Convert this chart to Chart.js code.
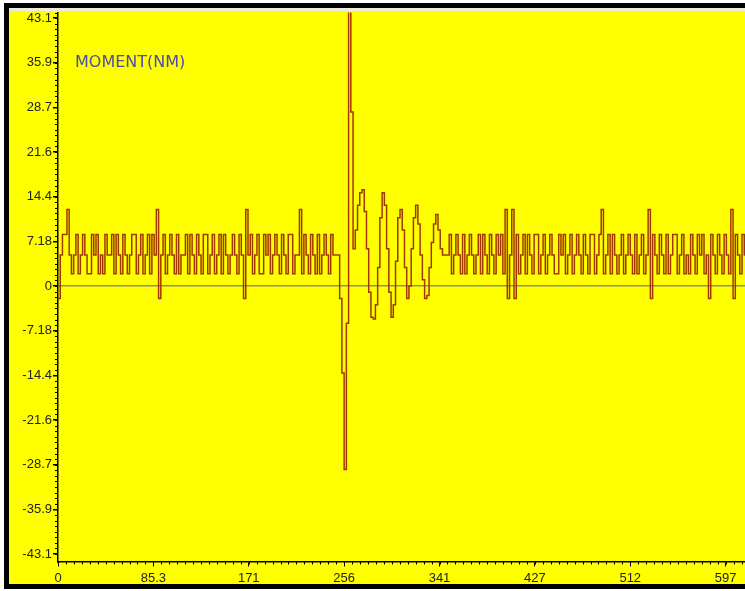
<!DOCTYPE html>
<html>
<head>
<meta charset="utf-8">
<script src="https://cdn.jsdelivr.net/npm/chart.js@4/dist/chart.umd.min.js"></script>
<style>
  html, body { margin: 0; padding: 0; background: #fff; overflow: hidden; width: 745px; height: 591px; }
  #frame {
    position: absolute; left: 4px; top: 3px; width: 900px; height: 576px;
    border-left: 5px solid #000; border-top: 5px solid #000; border-bottom: 5px solid #000;
    background: #ffff00; box-shadow: inset 0 3px 0 #ececd8;
  }
  #momentChart { position: absolute; left: 0; top: 0; z-index: 2; }
</style>
</head>
<body>
<div id="frame"></div>
<canvas id="momentChart" width="840" height="591"></canvas>
<script>
// sample data (x in samples, y in NM)
const noiseBefore = [
  -2, 5, 8.3, 8.3, 12.3, 5, 2, 5, 8.3, 2,
  5, 8.3, 5, 2, 2, 8.3, 5, 8.3, 2, 5,
  2, 8.3, 5, 5, 8.3, 2, 8.3, 5, 2, 8.3,
  5, 2, 5, 8.3, 8.3, 2, 5, 8.3, 2, 5,
  8.3, 2, 8.3, 5, 12.3, -2, 5, 8.3, 2, 5,
  8.3, 5, 2, 8.3, 2, 5, 5, 8.3, 2, 8.3,
  5, 2, 8.3, 5, 2, 8.3, 8.3, 2, 5, 8.3,
  2, 5, 8.3, 2, 8.3, 5, 2, 5, 8.3, 5,
  2, 8.3, 5, -2, 12.3, 5, 8.3, 2, 5, 8.3,
  2, 2, 8.3, 5, 8.3, 2, 5, 8.3, 5, 2,
  8.3, 5, 2, 8.3, 8.3, 2, 5, 5, 12.3, 2,
  8.3, 5, 2, 8.3, 5, 2, 8.3, 2, 5, 8.3,
  5, 2, 8.3, 5, 5
];
const impactWave = [
  5, -2, -14, -29.5, -6, 45, 28, 6, 9, 13,
  15, 15.5, 12, 6, -1, -5, -5.3, -3, 3, 11,
  15, 13, 6, -1, -5, -3, 4, 11, 12.3, 9,
  3, -2, 0, 6, 11, 13, 10, 5, 1, -2,
  -1.5, 3, 7, 10, 11.5, 9, 6, 5, 5
];
const noiseAfter = [
  5, 8.3, 2, 5, 8.3, 5, 2, 8.3, 2, 5,
  8.3, 5, 2, 5, 8.3, 2, 8.3, 5, 2, 8.3,
  5, 2, 8.3, 5, 8.3, 2, 12.3, -2, 5, 12.3,
  -2, 8.3, 2, 5, 8.3, 2, 8.3, 5, 2, 8.3,
  8.3, 2, 5, 8.3, 2, 5, 8.3, 5, 2, 2,
  8.3, 5, 8.3, 2, 5, 8.3, 2, 5, 8.3, 5,
  2, 8.3, 5, 2, 8.3, 8.3, 2, 5, 8.3, 12.3,
  2, 5, 8.3, 2, 8.3, 5, 2, 5, 8.3, 2,
  5, 8.3, 5, 2, 8.3, 2, 5, 8.3, 2, 5,
  12.3, -2, 8.3, 5, 2, 8.3, 5, 2, 8.3, 2,
  5, 8.3, 8.3, 2, 5, 8.3, 2, 5, 2, 8.3,
  5, 2, 8.3, 5, 8.3, 2, 5, -2, 8.3, 5,
  2, 8.3, 5, 2, 8.3, 5, 2, 12.3, -2, 8.3,
  5, 2, 8.3, 5, 8.3, 2, 5, 2, 8.3, 5,
  8.3, 2, 5, 8.3, 2, 5, 8.3, 5, 2, 8.3,
  2, 5, 8.3, 5, 2, 8.3, 5, 2, 8.3, 5,
  2, 8.3, 5, 8.3, 2, 5, 8.3, 5
];
// segment start sample and sample spacing
const segments = [
  { values: noiseBefore, start: 0, step: 2 },
  { values: impactWave, start: 250, step: 2 },
  { values: noiseAfter, start: 348, step: 2 }
];

const xTickLabels = ["0", "85.3", "171", "256", "341", "427", "512", "597", "683"];
const xTickStep = 85.3333;
const yTickLabels = ["-43.1", "-35.9", "-28.7", "-21.6", "-14.4", "-7.18", "0", "7.18", "14.4", "21.6", "28.7", "35.9", "43.1"];
const yTickStep = 7.18333;

const points = [];
segments.forEach(seg => {
  seg.values.forEach((v, i) => points.push({ x: seg.start + i * seg.step, y: v }));
});

// short minor tick marks along both axes + series name
const minorTicks = {
  id: "minorTicks",
  afterDraw(chart) {
    const { ctx, chartArea, scales } = chart;
    ctx.save();
    ctx.strokeStyle = "#000";
    ctx.lineWidth = 1;
    ctx.beginPath();
    const ySub = yTickStep / 8;
    for (let v = -6 * yTickStep; v <= scales.y.max; v += ySub) {
      if (v < scales.y.min) continue;
      const py = Math.round(scales.y.getPixelForValue(v)) + 0.5;
      ctx.moveTo(chartArea.left - 3, py);
      ctx.lineTo(chartArea.left, py);
    }
    const xSub = xTickStep / 12;
    for (let v = 0; v <= scales.x.max; v += xSub) {
      const px = Math.round(scales.x.getPixelForValue(v)) + 0.5;
      ctx.moveTo(px, chartArea.bottom);
      ctx.lineTo(px, chartArea.bottom + 3);
    }
    ctx.stroke();

    ctx.fillStyle = "#4d4da6";
    ctx.font = "16px 'DejaVu Sans'";
    ctx.textBaseline = "middle";
    ctx.fillText("MOMENT(NM)", chartArea.left + 17, chartArea.top + 50);
    ctx.restore();
  }
};

new Chart(document.getElementById("momentChart"), {
  type: "line",
  data: {
    datasets: [{
      data: points,
      borderColor: "#a13800",
      borderWidth: 1.5,
      stepped: true,
      pointRadius: 0,
      fill: false
    }]
  },
  options: {
    responsive: false,
    animation: false,
    layout: { padding: { top: 12.5, right: 19, left: 0, bottom: 0 } },
    plugins: { legend: { display: false }, tooltip: { enabled: false } },
    scales: {
      x: {
        type: "linear",
        min: 0,
        max: 8 * xTickStep,
        afterBuildTicks: scale => {
          scale.ticks = xTickLabels.map((_, i) => ({ value: i * xTickStep }));
        },
        afterFit: scale => { scale.height = 29.5; },
        ticks: {
          autoSkip: false,
          maxRotation: 0,
          padding: 4,
          color: "#222",
          font: { family: "Liberation Sans", size: 13 },
          callback: (value, index) => xTickLabels[index]
        },
        grid: { drawOnChartArea: false, tickLength: 5, tickColor: "#000" },
        border: { color: "#000", width: 1.5 }
      },
      y: {
        min: -44.3,
        max: 44.0,
        afterBuildTicks: scale => {
          scale.ticks = yTickLabels.map((_, i) => ({ value: (i - 6) * yTickStep }));
        },
        afterFit: scale => { scale.width = 58; },
        ticks: {
          autoSkip: false,
          padding: 1,
          color: "#222",
          font: { family: "Liberation Sans", size: 13 },
          callback: (value, index) => yTickLabels[index]
        },
        grid: {
          color: ctx => (ctx.tick && ctx.tick.value === 0 ? "#8f8f70" : "rgba(0,0,0,0)"),
          lineWidth: 1.5,
          tickLength: 5,
          tickColor: "#000"
        },
        border: { color: "#000", width: 1.5 }
      }
    }
  },
  plugins: [minorTicks]
});
</script>
</body>
</html>
